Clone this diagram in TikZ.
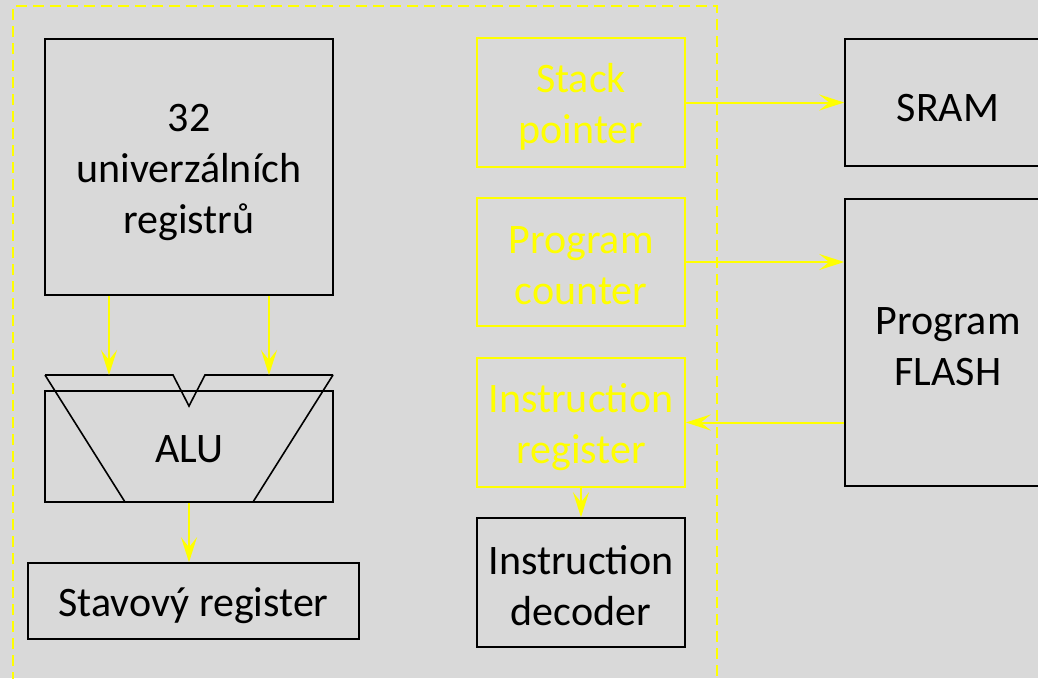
\documentclass[tikz,border=0pt]{standalone}
\usepackage{fontspec}
\setmainfont{Carlito}
\usetikzlibrary{arrows.meta,calc}
\definecolor{bg}{HTML}{D9D9D9}
\definecolor{yel}{HTML}{FFFF00}
\newcommand{\up}{\rule{0pt}{38pt}}
\newcommand{\dn}{\rule[-4pt]{0pt}{4pt}}
\begin{document}
\begin{tikzpicture}[x=1pt,y=-1pt,
  blk/.style={draw=black,line width=1.6pt,rectangle,inner sep=0pt,align=center,
     font=\fontsize{42}{51}\selectfont},
  yblk/.style={blk,draw=yel,text=yel},
  link/.style={draw=yel,line width=2pt,-{Stealth[length=25pt,width=16pt,inset=10pt]}},
  frame/.style={draw=yel,line width=2pt,dash pattern=on 11pt off 6pt}
]
\fill[bg] (0,0) rectangle (1038,678);
\useasboundingbox (0,0) rectangle (1038,678);
% dashed CPU frame
\draw[frame] (13,700) -- (13,6) -- (717,6) -- (717,700);
% left part
\node[blk,minimum width=288pt,minimum height=256pt] (reg) at (189,167) {\up 32\\univerzálních\\registrů\dn};
\node[blk,minimum width=288pt,minimum height=111pt] (alu) at (189,446.5) {\rule{0pt}{33pt}ALU};
\draw[line width=1.6pt,line join=miter] (45,375) -- (173,375) -- (189,406) -- (205,375) -- (333,375);
\draw[line width=1.6pt] (45,375) -- (125,502);
\draw[line width=1.6pt] (333,375) -- (253,502);
\coordinate (aluinA) at (109,375);
\coordinate (aluinB) at (269,375);
\node[blk,minimum width=331pt,minimum height=76pt] (stav) at (193.5,601) {\up Stavový register};
\draw[link] (reg.south -| aluinA) -- (aluinA);
\draw[link] (reg.south -| aluinB) -- (aluinB);
\draw[link] (alu.south) -- (alu.south |- stav.north);
% middle column
\node[yblk,minimum width=208pt,minimum height=129pt] (sp) at (581,102.5) {\up Stack\\pointer\dn};
\node[yblk,minimum width=208pt,minimum height=128pt] (pc) at (581,262) {\up Program\\counter\dn};
\node[yblk,minimum width=208pt,minimum height=129pt] (ir) at (581,422.5) {\up Instruction\\register\dn};
\node[blk,minimum width=208pt,minimum height=129pt] (dec) at (581,582.5) {\up Instruction\\decoder\dn};
% right column
\node[blk,minimum width=206pt,minimum height=127pt] (sram) at (948,102.5) {\up SRAM};
\node[blk,minimum width=206pt,minimum height=287pt] (flash) at (948,342.5) {\up Program\\FLASH\dn};
\draw[link] (sp.east) -- (sp.east -| sram.west);
\draw[link] (pc.east) -- (pc.east -| flash.west);
\draw[link] (ir.east -| flash.west) -- (ir.east);
\draw[link] (ir.south) -- (dec.north);
\end{tikzpicture}
\end{document}
